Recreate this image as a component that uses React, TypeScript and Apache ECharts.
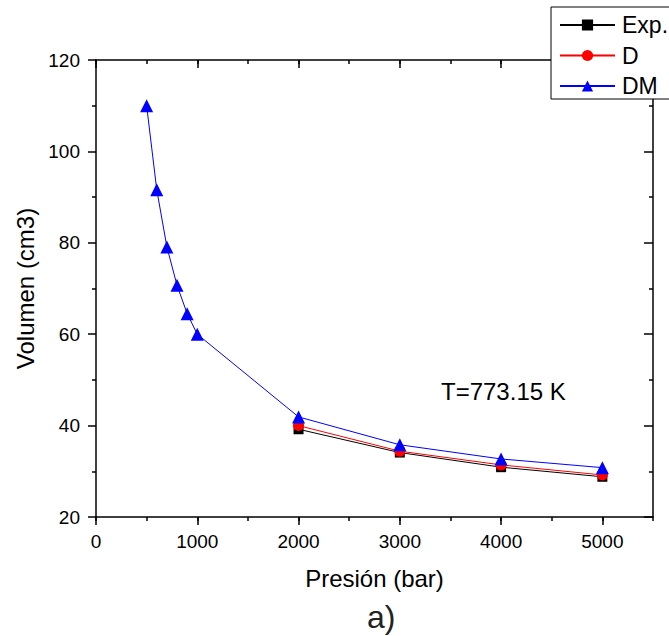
import React, { useEffect, useRef } from "react";
import * as echarts from "echarts";

const pressureExp = [2000, 3000, 4000, 5000];
const volumeExp = [39.2, 34.1, 30.9, 28.8];
const pressureD = [2000, 3000, 4000, 5000];
const volumeD = [40.0, 34.4, 31.4, 29.2];
const pressureDM = [500, 600, 700, 800, 900, 1000, 2000, 3000, 4000, 5000];
const volumeDM = [110.0, 91.6, 79.1, 70.7, 64.5, 60.0, 41.9, 35.8, 32.7, 30.8];
const seriesNames = ["Exp.", "D", "DM"];
const xTitle = "Presión (bar)";
const yTitle = "Volumen (cm3)";
const annotation = "T=773.15 K";
const panelLabel = "a)";

const FONT = "'Liberation Sans', Arial, sans-serif";

const pairs = (xs: number[], ys: number[]) => xs.map((x, i) => [x, ys[i]]);

export default function App() {
  const ref = useRef<HTMLDivElement>(null);
  useEffect(() => {
    if (!ref.current) return;
    const chart = echarts.init(ref.current, undefined, { renderer: "svg" });
    const line = { lineStyle: { color: "#000", width: 1.5 }, onZero: false };
    const option: any = {
      animation: false,
      backgroundColor: "#fff",
      textStyle: { fontFamily: FONT, color: "#000" },
      grid: [
        { left: 96, top: 60, width: 557, height: 457 },
        { left: 96, top: 60, width: (557 * 5000) / 5500, height: 457 },
      ],
      legend: {
        orient: "vertical",
        left: 551,
        top: 7,
        padding: [6, 8, 1, 8],
        itemWidth: 55,
        itemHeight: 14,
        itemGap: 6.5,
        backgroundColor: "#fff",
        borderColor: "#000",
        borderWidth: 1,
        borderRadius: 0,
        data: seriesNames,
        textStyle: { fontSize: 23, lineHeight: 24, color: "#000", fontFamily: FONT, padding: [0, 0, 0, 2] },
      },
      xAxis: [
        {
          type: "value", gridIndex: 0, position: "bottom", min: 0, max: 5500, interval: 500,
          axisLine: line,
          axisTick: { show: true, inside: false, length: 4, lineStyle: { color: "#000", width: 1.5 } },
          axisLabel: {
            fontSize: 19, margin: 15, color: "#000", fontFamily: FONT,
            formatter: (v: number) => (v % 1000 === 0 && v <= 5000 ? String(v) : ""),
          },
          splitLine: { show: false },
          name: xTitle, nameLocation: "middle", nameGap: 49,
          nameTextStyle: { fontSize: 24, color: "#000", fontFamily: FONT },
        },
        {
          type: "value", gridIndex: 0, position: "top", min: 0, max: 5500, interval: 500,
          axisLine: line,
          axisTick: { show: true, inside: true, length: 4, lineStyle: { color: "#000", width: 1.5 } },
          axisLabel: { show: false },
          splitLine: { show: false },
        },
        {
          type: "value", gridIndex: 1, position: "bottom", min: 0, max: 5000, interval: 1000,
          axisLine: { show: false, onZero: false },
          axisTick: { show: true, inside: false, length: 8, lineStyle: { color: "#000", width: 1.5 } },
          axisLabel: { show: false },
          splitLine: { show: false },
        },
        {
          type: "value", gridIndex: 1, position: "top", min: 0, max: 5000, interval: 1000,
          axisLine: { show: false, onZero: false },
          axisTick: { show: true, inside: true, length: 8, lineStyle: { color: "#000", width: 1.5 } },
          axisLabel: { show: false },
          splitLine: { show: false },
        },
      ],
      yAxis: [
        {
          type: "value", gridIndex: 0, position: "left", min: 20, max: 120, interval: 20,
          axisLine: line,
          axisTick: { show: true, inside: false, length: 8, lineStyle: { color: "#000", width: 1.5 } },
          minorTick: { show: true, splitNumber: 2, length: 4, lineStyle: { color: "#000", width: 1.5 } },
          axisLabel: { fontSize: 19, margin: 16, color: "#000", fontFamily: FONT },
          splitLine: { show: false },
          name: yTitle, nameLocation: "middle", nameGap: 58, nameRotate: 90,
          nameTextStyle: { fontSize: 24, color: "#000", fontFamily: FONT },
        },
        {
          type: "value", gridIndex: 0, position: "right", min: 20, max: 120, interval: 20,
          axisLine: line,
          axisTick: { show: true, inside: true, length: 9, lineStyle: { color: "#000", width: 1.5 } },
          minorTick: { show: true, splitNumber: 2, length: 4, lineStyle: { color: "#000", width: 1.5 } },
          axisLabel: { show: false },
          splitLine: { show: false },
        },
        {
          type: "value", gridIndex: 1, min: 20, max: 120, show: false,
        },
      ],
      series: [
        {
          name: seriesNames[0], type: "line", xAxisIndex: 0, yAxisIndex: 0,
          data: pairs(pressureExp, volumeExp),
          symbol: "rect", symbolSize: 10,
          lineStyle: { color: "#000", width: 1 },
          itemStyle: { color: "#000" },
        },
        {
          name: seriesNames[1], type: "line", xAxisIndex: 0, yAxisIndex: 0,
          data: pairs(pressureD, volumeD),
          symbol: "circle", symbolSize: 11,
          lineStyle: { color: "#ff0000", width: 1 },
          itemStyle: { color: "#ff0000" },
        },
        {
          name: seriesNames[2], type: "line", xAxisIndex: 0, yAxisIndex: 0,
          data: pairs(pressureDM, volumeDM),
          symbol: "triangle", symbolSize: 13,
          lineStyle: { color: "#0000ff", width: 1 },
          itemStyle: { color: "#0000ff" },
        },
      ],
      graphic: [
        {
          type: "text", left: 441, top: 379,
          style: { text: annotation, fontSize: 24, fontFamily: FONT, fill: "#000" },
        },
        {
          type: "text", left: 367, top: 601,
          style: { text: panelLabel, fontSize: 32, fontFamily: "'Liberation Sans Narrow', " + FONT, fill: "#222" },
        },
      ],
    };
    chart.setOption(option);
    return () => chart.dispose();
  }, []);
  return (
    <div
      ref={ref}
      style={{ position: "absolute", left: 0, top: 0, width: 669, height: 636 }}
    />
  );
}
